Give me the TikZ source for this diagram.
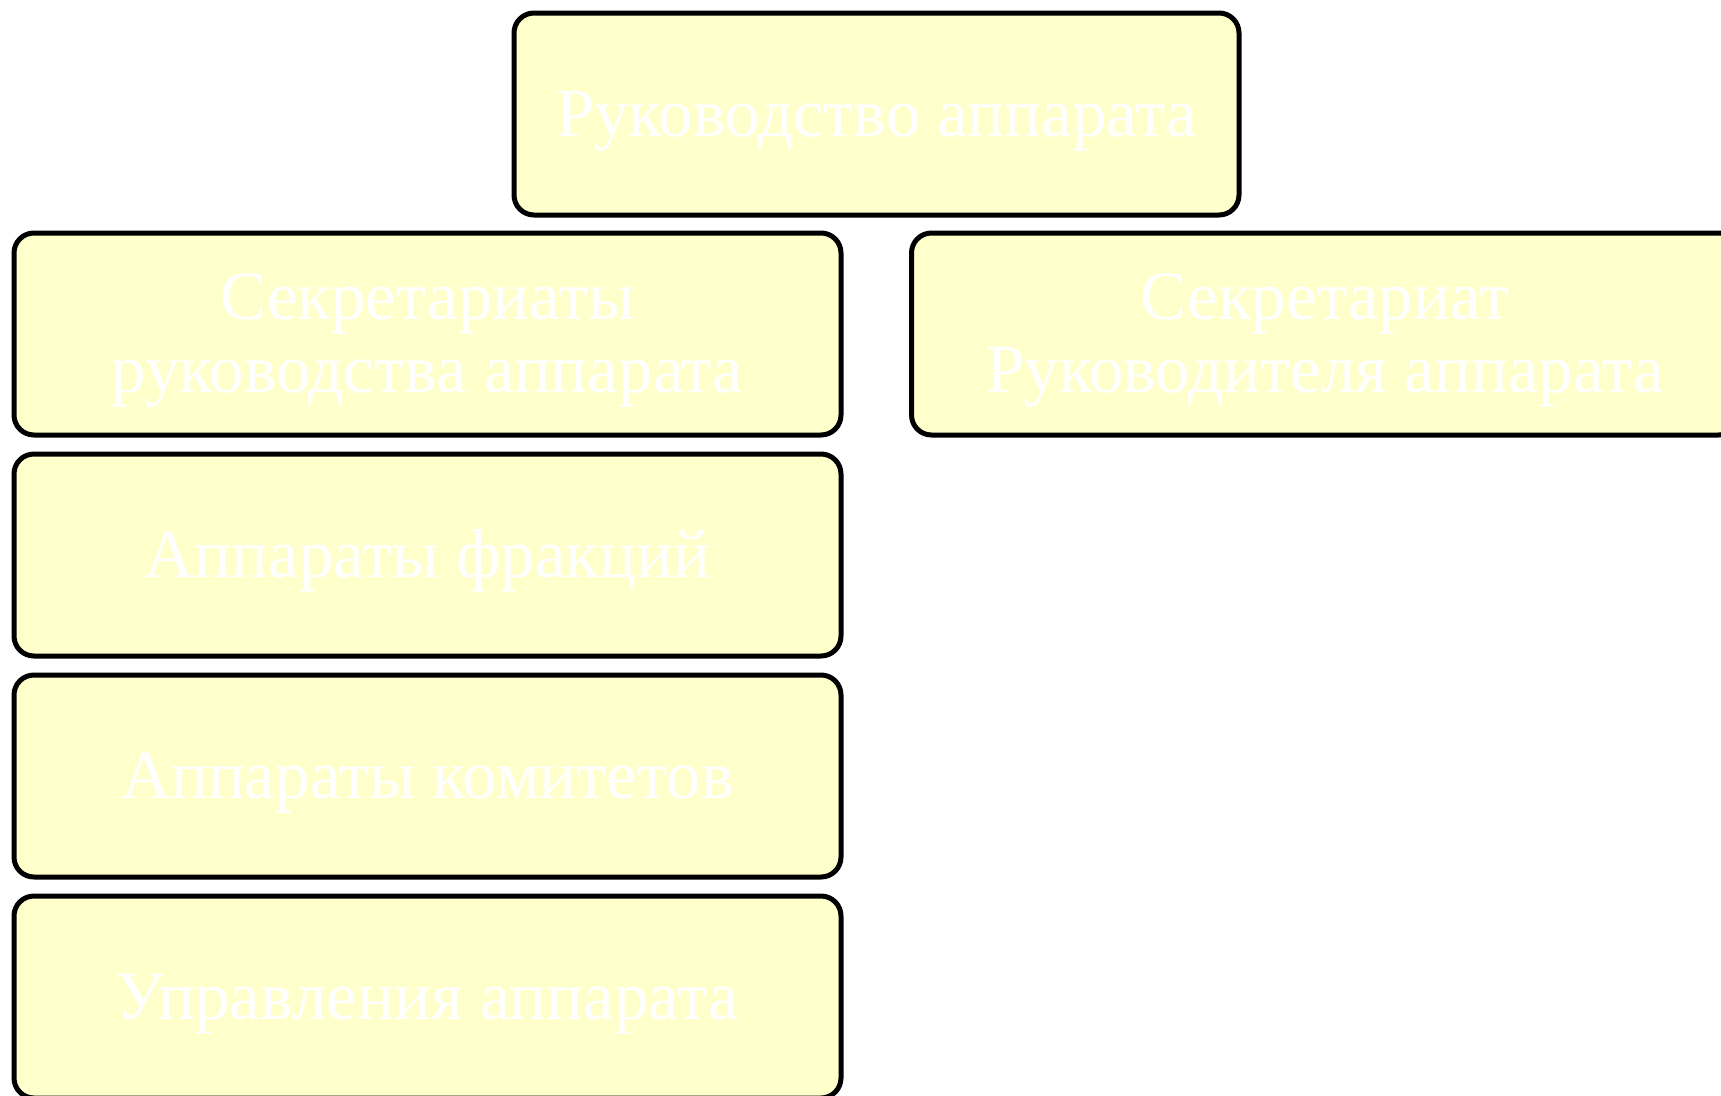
\documentclass[tikz,border=0pt]{standalone}
\usepackage{fontspec}
\setmainfont{Liberation Serif}
\definecolor{boxfill}{HTML}{FFFFCC}
\newcommand\boxtext[1]{\raisebox{0pt}[\dimexpr\height+15pt\relax][\depth]{\begin{tabular}{@{}c@{}}#1\end{tabular}}}
\tikzset{
  orgbox/.style={draw=black, line width=5pt, fill=boxfill, rounded corners=20pt,
    inner sep=0pt, align=center, text=white,
    font=\fontsize{69}{73}\selectfont},
}
\begin{document}
\begin{tikzpicture}[x=1pt,y=-1pt]
\useasboundingbox (0,0) rectangle (1721,1095);
\clip (0,0) rectangle (1721,1095);
\node[orgbox, minimum width=725pt, minimum height=202pt] (top) at (876.5,114) {\boxtext{Руководство аппарата}};
\node[orgbox, minimum width=827pt, minimum height=202pt] (sec1) at (427.5,334) {\boxtext{Секретариаты\\руководства аппарата}};
\node[orgbox, minimum width=827pt, minimum height=202pt] (sec2) at (1325,334) {\boxtext{Секретариат\\Руководителя аппарата}};
\node[orgbox, minimum width=827pt, minimum height=202pt] (frac) at (427.5,555) {\boxtext{Аппараты фракций}};
\node[orgbox, minimum width=827pt, minimum height=202pt] (com) at (427.5,776) {\boxtext{Аппараты комитетов}};
\node[orgbox, minimum width=827pt, minimum height=202pt] (upr) at (427.5,997) {\boxtext{Управления аппарата}};
\end{tikzpicture}
\end{document}
